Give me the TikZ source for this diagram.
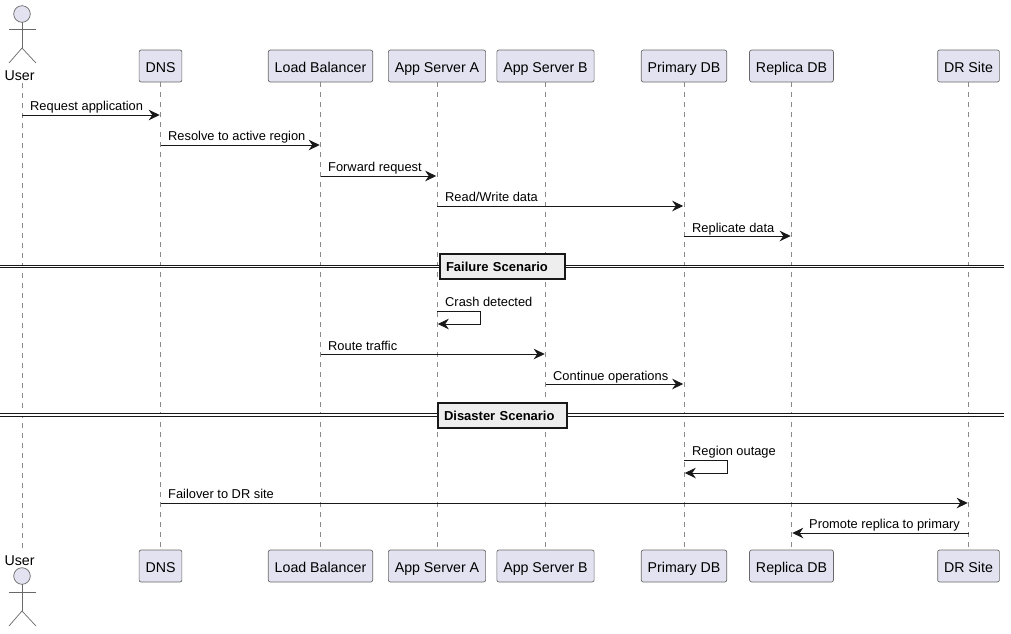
\documentclass[tikz,border=0pt]{standalone}
\usepackage{fontspec}
\setmainfont{Liberation Sans}
\usetikzlibrary{arrows.meta}
\definecolor{partfill}{HTML}{E2E2F0}
\definecolor{inkline}{HTML}{181818}
\definecolor{lifegray}{HTML}{8A8A8A}
\definecolor{divfill}{HTML}{EEEEEE}
\begin{document}
\begin{tikzpicture}[
    x=1pt, y=-1pt,
    pbox/.style={rectangle, rounded corners=2pt, draw=inkline!65, fill=partfill, line width=0.7pt,
                 minimum height=32pt, inner xsep=6.4pt, inner ysep=0pt, outer sep=0pt,
                 text height=12.4pt, text depth=0pt,
                 font=\fontsize{14.2}{16}\selectfont},
    actorhead/.style={circle, draw=inkline!65, fill=partfill, line width=0.7pt,
                 minimum size=16.6pt, inner sep=0pt, outer sep=0pt},
    actorname/.style={anchor=base, inner sep=0pt, font=\fontsize{14.2}{16}\selectfont},
    actorline/.style={draw=inkline!65, line width=0.7pt},
    lifeline/.style={draw=lifegray, line width=0.7pt, dash pattern=on 5pt off 5pt},
    msg/.style={draw=inkline, line width=0.9pt, shorten >=0.8pt,
                -{Stealth[length=11pt, width=10.5pt, inset=3.6pt]}},
    mlabel/.style={anchor=base west, inner sep=0pt, yshift=-0.7pt,
                   font=\fontsize{12.85}{15}\selectfont},
    divbox/.style={rectangle, draw=inkline, fill=divfill, line width=1.6pt,
                   minimum height=25pt, inner xsep=6pt, inner ysep=0pt, outer sep=0pt,
                   align=left, text height=9.2pt, text depth=0pt,
                   font=\fontsize{13}{15}\selectfont\bfseries},
    divline/.style={draw=inkline, line width=3.6pt},
    divgap/.style={draw=white, line width=1.6pt}
]
    \useasboundingbox (0,0) rectangle (1011,633);

    % participants, top row
    \node[actorhead] (userH) at (22,14) {};
    \node[actorname] (userT) at (19.5,80) {User};
    \node[pbox] (dns)  at (160.5,66) {DNS};
    \node[pbox] (lb)   at (320.5,66) {Load Balancer};
    \node[pbox] (appa) at (437,66)   {App Server A};
    \node[pbox] (appb) at (545.5,66) {App Server B};
    \node[pbox] (pdb)  at (684,66)   {Primary DB};
    \node[pbox] (rdb)  at (791.5,66) {Replica DB};
    \node[pbox] (dr)   at (968.5,66) {DR Site};

    % participants, bottom row
    \node[actorhead] (userHB) at (22,576) {};
    \node[actorname] (userTB) at (19.5,565) {User};
    \node[pbox] (dnsB)  at (160.5,566) {DNS};
    \node[pbox] (lbB)   at (320.5,566) {Load Balancer};
    \node[pbox] (appaB) at (437,566)   {App Server A};
    \node[pbox] (appbB) at (545.5,566) {App Server B};
    \node[pbox] (pdbB)  at (684,566)   {Primary DB};
    \node[pbox] (rdbB)  at (791.5,566) {Replica DB};
    \node[pbox] (drB)   at (968.5,566) {DR Site};

    % lifelines
    \coordinate (userA) at (22,83);
    \coordinate (userZ) at (22,552);
    \draw[lifeline] (userA) -- (userZ);
    \draw[lifeline] (dns.south)  -- (dnsB.north);
    \draw[lifeline] (lb.south)   -- (lbB.north);
    \draw[lifeline] (appa.south) -- (appaB.north);
    \draw[lifeline] (appb.south) -- (appbB.north);
    \draw[lifeline] (pdb.south)  -- (pdbB.north);
    \draw[lifeline] (rdb.south)  -- (rdbB.north);
    \draw[lifeline] (dr.south)   -- (drB.north);

    % stick figures
    \coordinate (hip) at (22,48);
    \coordinate (armL) at (9,29);
    \coordinate (armR) at (36,29);
    \coordinate (legL) at (9,63);
    \coordinate (legR) at (36,63);
    \draw[actorline] (userH) -- (hip);
    \draw[actorline] (armL) -- (armR);
    \draw[actorline] (legL) -- (hip) -- (legR);
    \coordinate (hipB) at (22,611);
    \coordinate (armLB) at (9,592);
    \coordinate (armRB) at (36,592);
    \coordinate (legLB) at (9,626);
    \coordinate (legRB) at (36,626);
    \draw[actorline] (userHB) -- (hipB);
    \draw[actorline] (armLB) -- (armRB);
    \draw[actorline] (legLB) -- (hipB) -- (legRB);

    % messages
    \coordinate (m1) at (0,115);
    \coordinate (m2) at (0,145);
    \coordinate (m3) at (0,176);
    \coordinate (m4) at (0,206);
    \coordinate (m5) at (0,236);
    \coordinate (m6) at (0,354);
    \coordinate (m7) at (0,384);
    \coordinate (m8) at (0,503);
    \coordinate (m9) at (0,533);
    \draw[msg] (userH |- m1) -- (dns |- m1);
    \draw[msg] (dns |- m2)  -- (lb |- m2);
    \draw[msg] (lb |- m3)   -- (appa |- m3);
    \draw[msg] (appa |- m4) -- (pdb |- m4);
    \draw[msg] (pdb |- m5)  -- (rdb |- m5);
    \draw[msg] (lb |- m6)   -- (appb |- m6);
    \draw[msg] (appb |- m7) -- (pdb |- m7);
    \draw[msg] (dns |- m8)  -- (dr |- m8);
    \draw[msg] (dr |- m9)   -- (rdb |- m9);

    % self messages
    \coordinate (crashS) at (437,311);
    \coordinate (crashC) at (480,324);
    \coordinate (crashE) at (437,324);
    \draw[msg] (crashS) -| (crashC) -- (crashE);
    \coordinate (outS) at (684,460);
    \coordinate (outC) at (727,473);
    \coordinate (outE) at (684,473);
    \draw[msg] (outS) -| (outC) -- (outE);

    \node[mlabel] (t1) at (30,109.5)   {Request application};
    \node[mlabel] (t2) at (168,139.5)  {Resolve to active region};
    \node[mlabel] (t3) at (328,170.5)  {Forward request};
    \node[mlabel] (t4) at (445,200.5)  {Read/Write data};
    \node[mlabel] (t5) at (692,231.5)  {Replicate data};
    \node[mlabel] (t6) at (445,305.5)  {Crash detected};
    \node[mlabel] (t7) at (328,349.5)  {Route traffic};
    \node[mlabel] (t8) at (553,379.5)  {Continue operations};
    \node[mlabel] (t9) at (692,454.5)  {Region outage};
    \node[mlabel] (t10) at (168,497.5) {Failover to DR site};
    \node[mlabel] (t11) at (809,527.5) {Promote replica to primary};

    % dividers
    \coordinate (failL) at (0,266.5);
    \coordinate (failR) at (1004,266.5);
    \coordinate (disL) at (0,415);
    \coordinate (disR) at (1004,415);
    \draw[divline] (failL) -- (failR);
    \draw[divgap] (failL) -- (failR);
    \draw[divline] (disL) -- (disR);
    \draw[divgap] (disL) -- (disR);
    \node[divbox, text width=113pt] (failbox) at (502.5,266.5) {Failure Scenario};
    \node[divbox, text width=117pt] (disbox) at (502.5,415.5) {Disaster Scenario};
\end{tikzpicture}
\end{document}
